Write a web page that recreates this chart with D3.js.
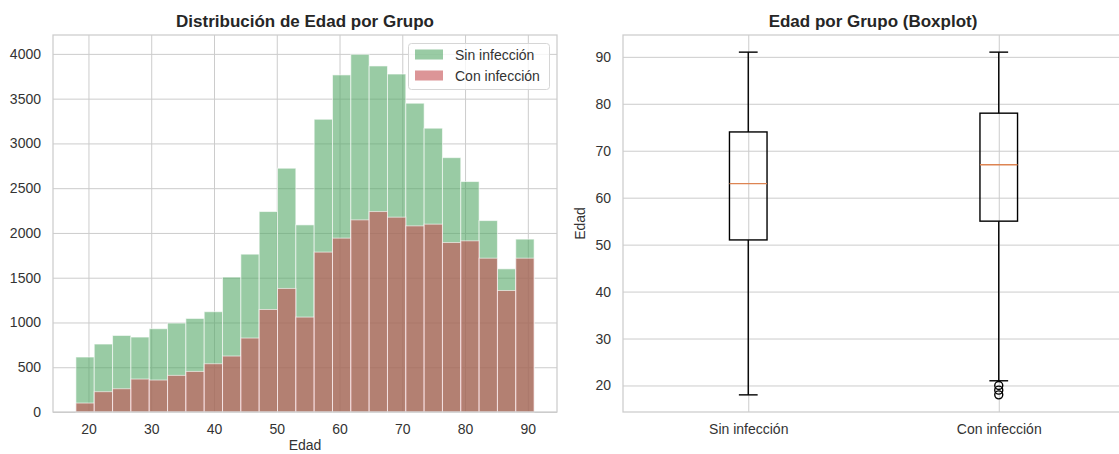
<!DOCTYPE html>
<html>
<head>
<meta charset="utf-8">
<script src="https://cdn.jsdelivr.net/npm/d3@7"></script>
<style>
  html, body { margin: 0; padding: 0; background: #fff; }
  svg text { font-family: "Liberation Sans", Arial, sans-serif; }
</style>
</head>
<body>
<svg id="chart" width="1119" height="454"></svg>
<script>
// Age histogram (25 bins from 18 to 91) per group
const ageMin = 18;
const ageMax = 91;
const binCount = 25;
const sinInfeccion = [614, 759, 855, 837, 930, 993, 1045, 1120, 1507, 1763, 2239, 2723, 2090,
  3270, 3765, 3995, 3865, 3775, 3449, 3170, 2841, 2574, 2138, 1599, 1931];
const conInfeccion = [100, 227, 260, 368, 357, 409, 453, 539, 625, 826, 1145, 1380, 1060,
  1786, 1942, 2146, 2239, 2176, 2079, 2098, 1893, 1912, 1718, 1357, 1718];
const histXTicks = [20, 30, 40, 50, 60, 70, 80, 90];
const histYTicks = [0, 500, 1000, 1500, 2000, 2500, 3000, 3500, 4000];

// Boxplot summaries
const groups = ["Sin infección", "Con infección"];
const q1 = [51, 55];
const medians = [63, 67];
const q3 = [74, 78];
const whiskerLow = [18, 21];
const whiskerHigh = [91, 91];
const outliers = [[], [18, 19, 20]];
const boxYTicks = [20, 30, 40, 50, 60, 70, 80, 90];

const green = "#55A868", red = "#C44E52", gridColor = "#cccccc", textColor = "#333333";
const svg = d3.select("#chart");

// ---------- Histogram panel ----------
const h = { left: 53, right: 557, top: 35, bottom: 412 };
const pad = (ageMax - ageMin) * 0.05;
const hx = d3.scaleLinear().domain([ageMin - pad, ageMax + pad]).range([h.left, h.right]);
const hy = d3.scaleLinear().domain([0, 4211]).range([h.bottom, h.top]);
const edges = d3.range(binCount + 1).map(i => ageMin + i * (ageMax - ageMin) / binCount);

const hg = svg.append("g");
// grid
hg.append("g").attr("transform", `translate(0,${h.bottom})`)
  .call(d3.axisBottom(hx).tickValues(histXTicks).tickSize(-(h.bottom - h.top)).tickFormat(d3.format("d")).tickPadding(12))
  .call(g => g.select(".domain").remove())
  .call(g => g.selectAll("line").attr("stroke", gridColor).attr("stroke-width", 1))
  .call(g => g.selectAll("text").attr("fill", textColor).attr("font-size", 14));
hg.append("g").attr("transform", `translate(${h.left},0)`)
  .call(d3.axisLeft(hy).tickValues(histYTicks).tickSize(-(h.right - h.left)).tickFormat(d3.format("d")).tickPadding(12))
  .call(g => g.select(".domain").remove())
  .call(g => g.selectAll("line").attr("stroke", gridColor).attr("stroke-width", 1))
  .call(g => g.selectAll("text").attr("fill", textColor).attr("font-size", 14));

function drawBars(values, color) {
  hg.append("g").selectAll("rect").data(values).join("rect")
    .attr("x", (d, i) => hx(edges[i]))
    .attr("width", (d, i) => hx(edges[i + 1]) - hx(edges[i]))
    .attr("y", d => hy(d))
    .attr("height", d => hy(0) - hy(d))
    .attr("fill", color).attr("fill-opacity", 0.6)
    .attr("stroke", "#fff").attr("stroke-opacity", 0.6).attr("stroke-width", 1);
}
drawBars(sinInfeccion, green);
drawBars(conInfeccion, red);

// frame
hg.append("rect").attr("x", h.left).attr("y", h.top)
  .attr("width", h.right - h.left).attr("height", h.bottom - h.top)
  .attr("fill", "none").attr("stroke", gridColor).attr("stroke-width", 1.25);

hg.append("text").attr("x", (h.left + h.right) / 2).attr("y", 27)
  .attr("text-anchor", "middle").attr("font-size", 17).attr("font-weight", "bold")
  .attr("fill", "#262626").text("Distribución de Edad por Grupo");
hg.append("text").attr("x", (h.left + h.right) / 2).attr("y", 450)
  .attr("text-anchor", "middle").attr("font-size", 14).attr("fill", textColor).text("Edad");

// legend
const lg = hg.append("g").attr("transform", "translate(408.5,43.5)");
lg.append("rect").attr("width", 141).attr("height", 46).attr("rx", 3)
  .attr("fill", "#fff").attr("fill-opacity", 0.8).attr("stroke", "#d6d6d6").attr("stroke-width", 1);
[["Sin infección", green], ["Con infección", red]].forEach(([label, c], i) => {
  lg.append("rect").attr("x", 6.5).attr("y", 6 + i * 21).attr("width", 28).attr("height", 10)
    .attr("fill", c).attr("fill-opacity", 0.6);
  lg.append("text").attr("x", 46.5).attr("y", 16.5 + i * 21).attr("font-size", 14)
    .attr("fill", textColor).text(label);
});

// ---------- Boxplot panel ----------
const b = { left: 623, right: 1124, top: 35, bottom: 412 };
const bx = d3.scaleLinear().domain([0.5, 2.5]).range([b.left, b.right]);
const by = d3.scaleLinear().domain([ageMin - pad, ageMax + pad]).range([b.bottom, b.top]);
const bg = svg.append("g");

bg.append("g").attr("transform", `translate(0,${b.bottom})`)
  .call(d3.axisBottom(bx).tickValues([1, 2]).tickSize(-(b.bottom - b.top)).tickFormat(d => groups[d - 1]).tickPadding(12))
  .call(g => g.select(".domain").remove())
  .call(g => g.selectAll("line").attr("stroke", gridColor).attr("stroke-width", 1))
  .call(g => g.selectAll("text").attr("fill", textColor).attr("font-size", 14));
bg.append("g").attr("transform", `translate(${b.left},0)`)
  .call(d3.axisLeft(by).tickValues(boxYTicks).tickSize(-(b.right - b.left)).tickFormat(d3.format("d")).tickPadding(12))
  .call(g => g.select(".domain").remove())
  .call(g => g.selectAll("line").attr("stroke", gridColor).attr("stroke-width", 1))
  .call(g => g.selectAll("text").attr("fill", textColor).attr("font-size", 14));

bg.append("rect").attr("x", b.left).attr("y", b.top)
  .attr("width", b.right - b.left).attr("height", b.bottom - b.top)
  .attr("fill", "none").attr("stroke", gridColor).attr("stroke-width", 1.25);

const boxW = 0.15, capW = 0.075, lw = 1.4;
groups.forEach((g, i) => {
  const p = i + 1;
  const grp = bg.append("g");
  // whiskers
  grp.append("line").attr("x1", bx(p)).attr("x2", bx(p)).attr("y1", by(q1[i])).attr("y2", by(whiskerLow[i]))
    .attr("stroke", "#000").attr("stroke-width", lw);
  grp.append("line").attr("x1", bx(p)).attr("x2", bx(p)).attr("y1", by(q3[i])).attr("y2", by(whiskerHigh[i]))
    .attr("stroke", "#000").attr("stroke-width", lw);
  // caps
  [whiskerLow[i], whiskerHigh[i]].forEach(v => {
    grp.append("line").attr("x1", bx(p - capW / 2)).attr("x2", bx(p + capW / 2))
      .attr("y1", by(v)).attr("y2", by(v)).attr("stroke", "#000").attr("stroke-width", lw);
  });
  // box
  grp.append("rect").attr("x", bx(p - boxW / 2)).attr("width", bx(p + boxW / 2) - bx(p - boxW / 2))
    .attr("y", by(q3[i])).attr("height", by(q1[i]) - by(q3[i]))
    .attr("fill", "none").attr("stroke", "#000").attr("stroke-width", lw);
  // median
  grp.append("line").attr("x1", bx(p - boxW / 2)).attr("x2", bx(p + boxW / 2))
    .attr("y1", by(medians[i])).attr("y2", by(medians[i]))
    .attr("stroke", "#DD8452").attr("stroke-width", lw);
  // fliers
  grp.selectAll("circle").data(outliers[i]).join("circle")
    .attr("cx", bx(p)).attr("cy", d => by(d)).attr("r", 4)
    .attr("fill", "none").attr("stroke", "#000").attr("stroke-width", 1.4);
});

bg.append("text").attr("x", 873).attr("y", 27)
  .attr("text-anchor", "middle").attr("font-size", 17).attr("font-weight", "bold")
  .attr("fill", "#262626").text("Edad por Grupo (Boxplot)");
bg.append("text").attr("transform", `translate(585,${(b.top + b.bottom) / 2}) rotate(-90)`)
  .attr("text-anchor", "middle").attr("font-size", 14).attr("fill", textColor).text("Edad");
</script>
</body>
</html>
